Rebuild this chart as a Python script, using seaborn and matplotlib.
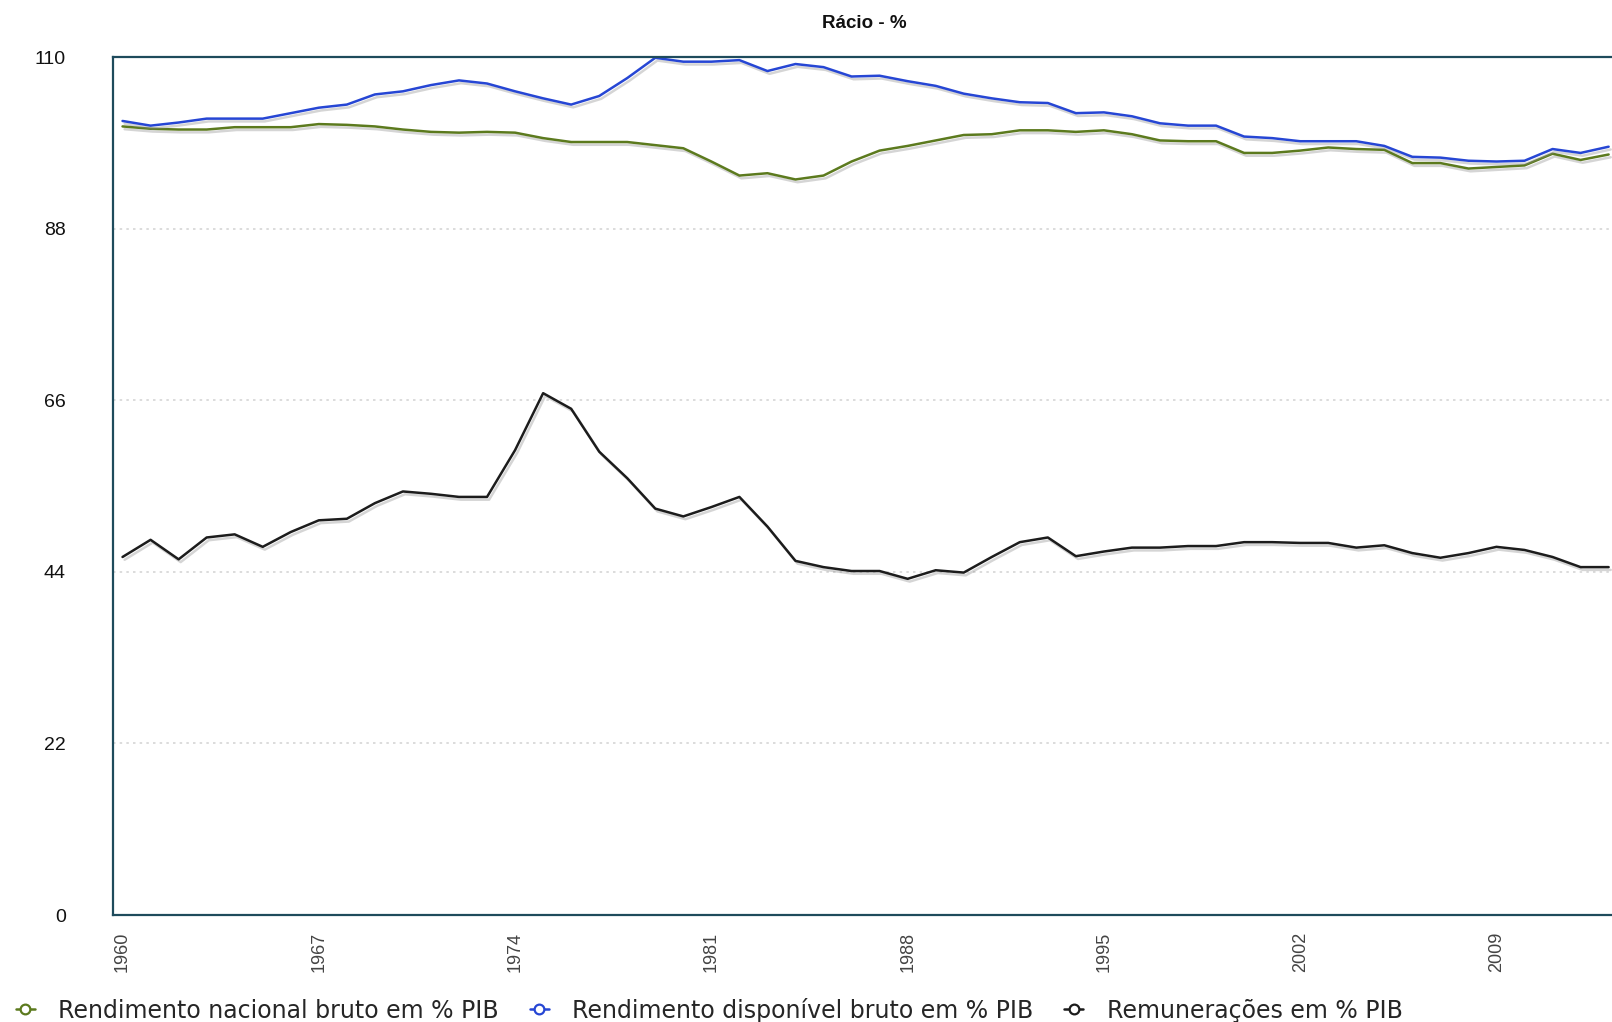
import matplotlib
matplotlib.use('Agg')
import matplotlib.pyplot as plt
import matplotlib.patheffects as pe
from matplotlib.lines import Line2D
import seaborn as sns
import pandas as pd

# Series, one value per year 1960-2013
years = list(range(1960, 2014))

rnb_pib = [101.1, 100.8, 100.7, 100.7, 101.0, 101.0, 101.0, 101.4, 101.3, 101.1,
           100.7, 100.4, 100.3, 100.4, 100.3, 99.6, 99.1, 99.1, 99.1, 98.7,
           98.3, 96.6, 94.8, 95.1, 94.3, 94.8, 96.6, 98.0, 98.6, 99.3,
           100.0, 100.1, 100.6, 100.6, 100.4, 100.6, 100.1, 99.3, 99.2, 99.2,
           97.7, 97.7, 98.0, 98.4, 98.2, 98.1, 96.4, 96.4, 95.7, 95.9,
           96.1, 97.6, 96.8, 97.5]

rdb_pib = [101.8, 101.2, 101.6, 102.1, 102.1, 102.1, 102.8, 103.5, 103.9, 105.2,
           105.6, 106.4, 107.0, 106.6, 105.6, 104.7, 103.9, 105.0, 107.3, 109.9,
           109.4, 109.4, 109.6, 108.2, 109.1, 108.7, 107.5, 107.6, 106.9, 106.3,
           105.3, 104.7, 104.2, 104.1, 102.8, 102.9, 102.4, 101.5, 101.2, 101.2,
           99.8, 99.6, 99.2, 99.2, 99.2, 98.6, 97.2, 97.1, 96.7, 96.6,
           96.7, 98.2, 97.7, 98.5]

remun_pib = [45.9, 48.1, 45.6, 48.4, 48.8, 47.2, 49.1, 50.6, 50.8, 52.8,
             54.3, 54.0, 53.6, 53.6, 59.6, 66.9, 64.9, 59.4, 56.0, 52.1,
             51.1, 52.3, 53.6, 49.8, 45.4, 44.6, 44.1, 44.1, 43.1, 44.2,
             43.9, 45.9, 47.8, 48.4, 46.0, 46.6, 47.1, 47.1, 47.3, 47.3,
             47.8, 47.8, 47.7, 47.7, 47.1, 47.4, 46.4, 45.8, 46.4, 47.2,
             46.8, 45.9, 44.6, 44.6]

labels = ['Rendimento nacional bruto em % PIB',
          'Rendimento disponível bruto em % PIB',
          'Remunerações em % PIB']
colors = ['#5c7a1e', '#2646d4', '#1c1c1c']
year_ticks = [1960, 1967, 1974, 1981, 1988, 1995, 2002, 2009]
y_ticks = [0, 22, 44, 66, 88, 110]

df = pd.DataFrame({'ano': years * 3,
                   'valor': rnb_pib + rdb_pib + remun_pib,
                   'serie': [labels[0]] * len(years) + [labels[1]] * len(years) + [labels[2]] * len(years)})

sns.set_style('white')
plt.rcParams['font.family'] = ['Liberation Sans', 'DejaVu Sans']

fig = plt.figure(figsize=(16.12, 10.22), dpi=100)
ax = fig.add_axes([113 / 1612, 1 - 915 / 1022, 1 - 113 / 1612, (915 - 57) / 1022])

sns.lineplot(data=df, x='ano', y='valor', hue='serie', hue_order=labels,
             palette=colors, linewidth=1.8, legend=False, ax=ax)
for line in ax.lines:
    line.set_path_effects([pe.SimpleLineShadow(offset=(1.5, -2), shadow_color='#888888', alpha=0.35),
                           pe.Normal()])

ax.set_xlim(1959.66, 2013.12)
ax.set_ylim(0, 110)
ax.set_xticks(year_ticks)
ax.set_xticklabels([str(y) for y in year_ticks], rotation=90, color='#444444', fontsize=13)
ax.set_yticks(y_ticks)
ax.set_yticklabels([str(v) for v in y_ticks], fontsize=14, color='#111111')
ax.tick_params(axis='y', length=0, pad=34)
ax.tick_params(axis='x', length=0, pad=12)
ax.set_xlabel('')
ax.set_ylabel('')

for v in y_ticks[1:-1]:
    ax.axhline(v, color='#d6d6d6', linestyle=(0, (1.5, 2.5)), linewidth=1.2, zorder=0)

for side in ['left', 'top', 'bottom']:
    ax.spines[side].set_color('#1e4b5c')
    ax.spines[side].set_linewidth(1.6)
ax.spines['right'].set_visible(False)

fig.text(864 / 1612, 1 - 23 / 1022, 'Rácio - %', ha='center', va='center',
         fontsize=13.5, fontweight='bold', color='#111111')

handles = [Line2D([0], [0], color=c, linewidth=1.8, marker='o', markersize=7,
                  markerfacecolor='white', markeredgecolor=c, markeredgewidth=1.6)
           for c in colors]
fig.legend(handles, labels, loc='center left', bbox_to_anchor=(16 / 1612, 1 - 1010 / 1022),
           ncol=3, frameon=False, borderpad=0, borderaxespad=0,
           handlelength=0.8, handletextpad=1.0, columnspacing=1.3,
           prop={'family': 'DejaVu Sans', 'size': 17})

fig.savefig('out.png', dpi=100, facecolor='white')
